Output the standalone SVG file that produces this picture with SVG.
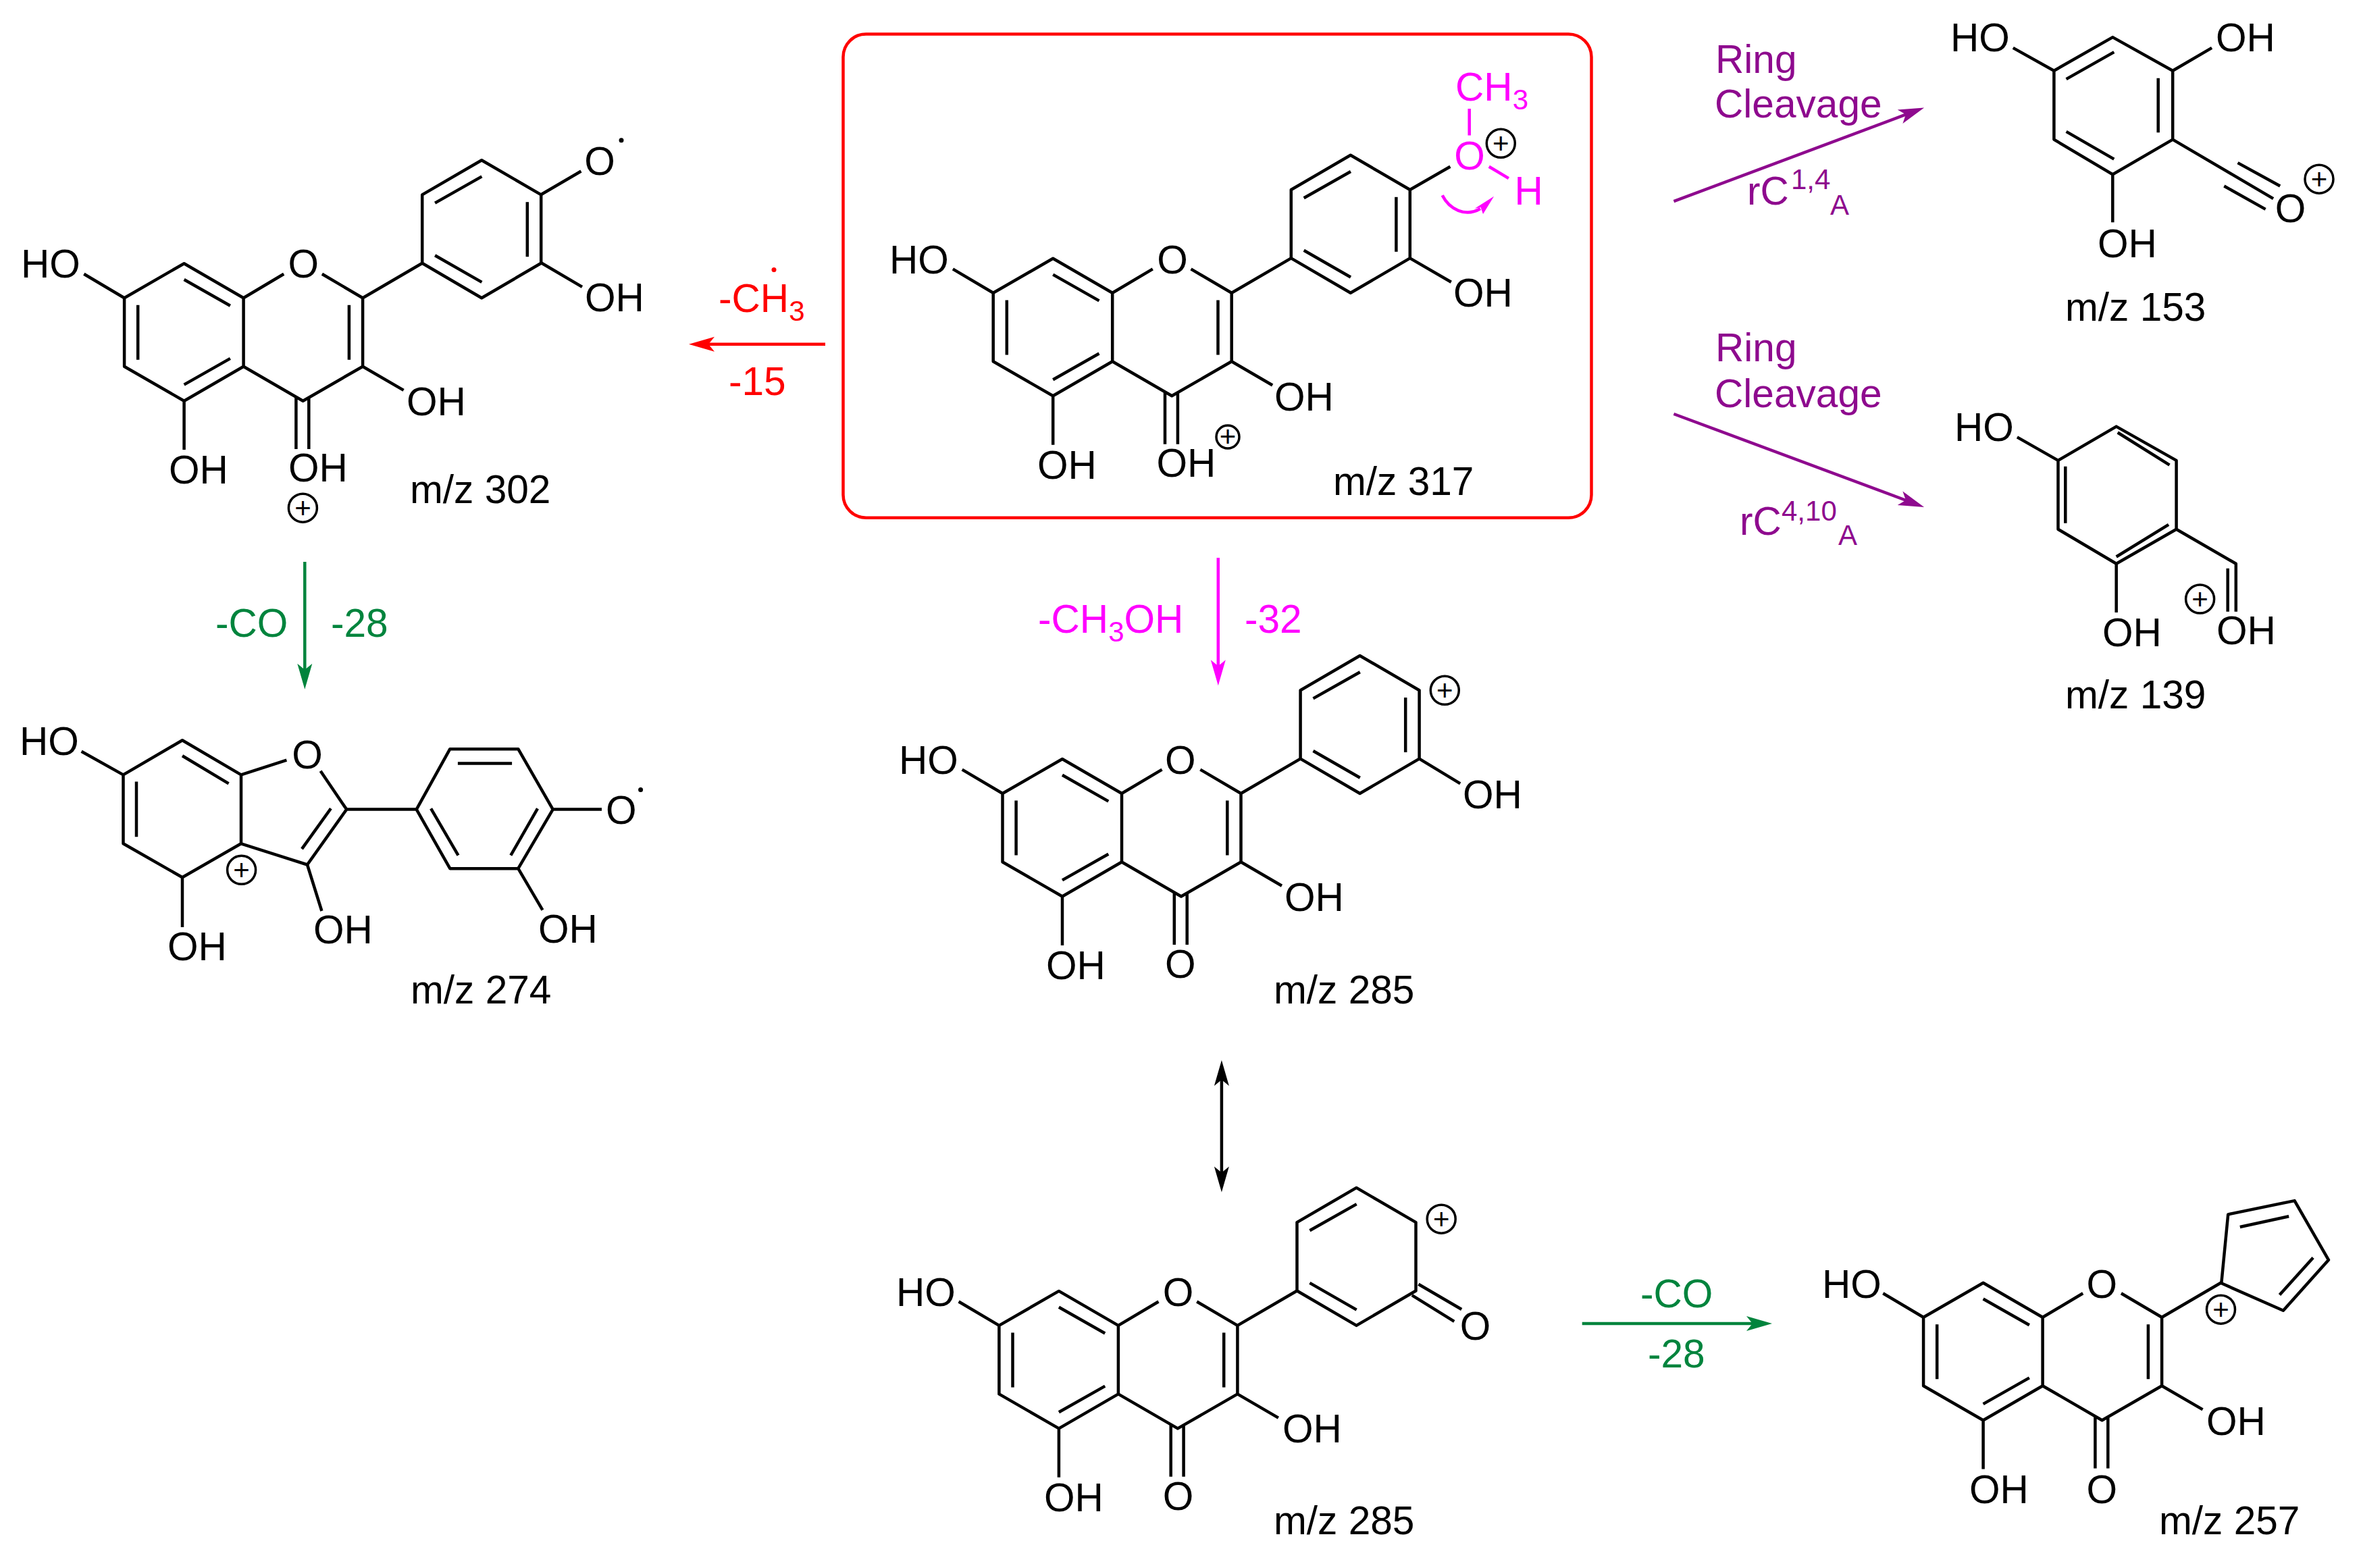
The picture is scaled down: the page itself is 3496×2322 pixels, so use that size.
<svg xmlns="http://www.w3.org/2000/svg" width="3496" height="2322" viewBox="0 0 3496 2322">
<style>
text{font-family:"Liberation Sans",Arial,sans-serif;font-size:58.6px;fill:#000}
.m{text-anchor:middle}
.b{fill:none;stroke:#000;stroke-width:4.5;stroke-linejoin:round;stroke-linecap:butt}
.pc{fill:none;stroke:#000;stroke-width:3.5}
.pt{font-size:42px;text-anchor:middle}
.dot{fill:#000}
.s{font-size:42px}
.red{fill:#f00}.grn{fill:#00843d}.mag{fill:#f0f}.pur{fill:#8e0a8e}
.mb{fill:none;stroke:#f0f;stroke-width:4.5}
.arrow{fill:none;stroke-width:4.5}
</style>
<defs>
<g id="chromone"><path class="b" d="M0,0L-88,-51L-176.5,0V101.5L-88,152.5L0,101.5ZM0,101.5L88,152.5L176.5,101.5V0M59.6,-35.4L0,0M116.3,-35.4L176.5,0M-156.4,10.6V91.6M-88,-27.2L-19.7,11.6M-88,128.4L-19.7,89.7M156.3,10.6V91.6M-176.5,0L-236.3,-35.4M176.5,101.5L237,136.7M-88,152.5V224.9M77.8,147V223.9M96.7,147V223.9M176.5,0L264.6,-51.4"/></g>
<g id="ringb"><path class="b" d="M264.6,-51.4L352.6,0L440.6,-51.4V-152.8L352.6,-204L264.6,-152.8ZM283.5,-140.6L352.8,-179.8M283.5,-63L352.8,-23.3"/></g>
<path id="ringb3" class="b" d="M420.2,-142V-61"/>
<marker id="hr" markerUnits="userSpaceOnUse" markerWidth="40" markerHeight="26" refX="18" refY="13" orient="auto"><path d="M38,13L0,2L9,13L0,24Z" fill="#f00"/></marker>
<marker id="hg" markerUnits="userSpaceOnUse" markerWidth="40" markerHeight="26" refX="18" refY="13" orient="auto"><path d="M38,13L0,2L9,13L0,24Z" fill="#00843d"/></marker>
<marker id="hm" markerUnits="userSpaceOnUse" markerWidth="40" markerHeight="26" refX="18" refY="13" orient="auto"><path d="M38,13L0,2L9,13L0,24Z" fill="#f0f"/></marker>
<marker id="hp" markerUnits="userSpaceOnUse" markerWidth="40" markerHeight="26" refX="18" refY="13" orient="auto"><path d="M38,13L0,2L9,13L0,24Z" fill="#8e0a8e"/></marker>
<marker id="hk" markerUnits="userSpaceOnUse" markerWidth="40" markerHeight="26" refX="18" refY="13" orient="auto-start-reverse"><path d="M38,13L0,2L9,13L0,24Z" fill="#000"/></marker>
</defs>
<rect width="3496" height="2322" fill="#fff"/>

<g id="connectors">
<path class="arrow" stroke="#f00" marker-end="url(#hr)" d="M1222,509.8H1040"/>
<path class="arrow" stroke="#00843d" marker-end="url(#hg)" d="M451.3,832V1000.8"/>
<path class="arrow" stroke="#f0f" marker-end="url(#hm)" d="M1803.8,825.9V995.2"/>
<path class="arrow" stroke="#000" marker-start="url(#hk)" marker-end="url(#hk)" d="M1808.9,1590V1745.4"/>
<path class="arrow" stroke="#00843d" marker-end="url(#hg)" d="M2342.7,1960H2604"/>
<path class="arrow" stroke="#8e0a8e" marker-end="url(#hp)" d="M2478.4,298.2L2830.4,166.4"/>
<path class="arrow" stroke="#8e0a8e" marker-end="url(#hp)" d="M2478.4,613L2830.4,744"/>
</g>

<g id="node-mz317">
<rect x="1248.5" y="50.4" width="1108" height="716.4" rx="34" fill="none" stroke="#f00" stroke-width="4.5"/>
<use href="#chromone" x="1647.2" y="433.8"/><use href="#ringb" x="1647.2" y="433.8"/><use href="#ringb3" x="1647.2" y="433.8"/>
<path class="b" d="M2087.8,281L2147.4,246.7M2087.8,382.4L2148.8,417.8"/>
<text x="1317" y="405">HO</text><text class="m" x="1736" y="405">O</text>
<text x="2152" y="454">OH</text><text x="1887" y="607.5">OH</text><text x="1536" y="709">OH</text><text x="1712.5" y="706">OH</text>
<circle class="pc" cx="1818" cy="647" r="17"/><text class="pt" x="1818" y="661">+</text>
<text x="1974" y="732.5">m/z 317</text>
<text class="mag" x="2155" y="149">CH<tspan class="s" dy="13">3</tspan></text>
<path class="mb" d="M2175.7,160.9V200.6M2204.8,246.7L2233.9,264.1"/>
<text class="m mag" x="2176" y="250.5">O</text><text class="mag" x="2242.5" y="302.5">H</text>
<circle class="pc" cx="2222.3" cy="212.3" r="21"/><text class="pt" x="2222.3" y="226.5">+</text>
<path class="mb" d="M2135.7,289.3C2146,310 2170,322 2192,309"/>
<path d="M2212.1,290.8L2183.7,308.7L2192.5,307L2196,317Z" fill="#f0f"/>
</g>

<g id="node-mz302">
<use href="#chromone" x="360.6" y="441.2"/><use href="#ringb" x="360.6" y="441.2"/><use href="#ringb3" x="360.6" y="441.2"/>
<path class="b" d="M801,288.2L860.4,253.5M801,389L862,424.9"/>
<text x="31" y="411">HO</text><text class="m" x="449.2" y="411">O</text>
<text x="602" y="615">OH</text><text x="250" y="715.5">OH</text><text x="427" y="713">OH</text>
<text class="m" x="888" y="258.5">O</text><circle class="dot" cx="920" cy="207.8" r="3.5"/>
<text x="866" y="461">OH</text>
<circle class="pc" cx="448.4" cy="752.2" r="21"/><text class="pt" x="448.4" y="766.5">+</text>
<text x="607" y="745">m/z 302</text>
</g>

<g id="label-ch3"><text class="red" x="1064" y="462">-CH<tspan class="s" dy="13">3</tspan></text><circle cx="1146" cy="399.6" r="3.5" fill="#f00"/><text class="red" x="1079" y="584.5">-15</text></g>

<g id="node-mz274">
<path class="b" d="M182.5,1147.4L270,1096.2L357,1147.4V1249.3L270,1299.2L182.5,1249.3ZM357,1147.4L424.4,1125.7M474.6,1141.8L513.2,1198.6L455,1280.5L357,1249.3M270,1119.2L338.6,1160.4M202,1157.4V1239.3M489.9,1197.3L447,1257.1M513.2,1198.6H616.7L666.3,1286.2H767.3L818.7,1198.6L767.3,1109.2H666.3L616.7,1198.6M677.9,1130.5H758.1M638.1,1197.3L678.5,1266.7M796,1197.3L756.3,1266.7M818.7,1198.6H891M455,1280.5L476.4,1349M270,1299.2V1372.9M767.3,1286.2L803.4,1347.7M182.5,1147.4L120.6,1112.7"/>
<text x="29" y="1117.5">HO</text><text class="m" x="455" y="1137.5">O</text>
<text class="m" x="919.8" y="1219.5">O</text><circle class="dot" cx="948.6" cy="1169.5" r="3.5"/>
<text x="464" y="1397">OH</text><text x="248" y="1422">OH</text><text x="797" y="1395.5">OH</text>
<circle class="pc" cx="357.6" cy="1288.3" r="21"/><text class="pt" x="357.6" y="1302.5">+</text>
<text x="608" y="1486">m/z 274</text>
</g>
<g id="label-co1"><text class="grn" x="319" y="943">-CO</text><text class="grn" x="490" y="943">-28</text></g>

<g id="node-mz285a">
<use href="#chromone" x="1661" y="1175"/><use href="#ringb" x="1661" y="1175"/><use href="#ringb3" x="1661" y="1175"/>
<path class="b" d="M2101.6,1123.6L2162.2,1160.3"/>
<text x="1331" y="1145.5">HO</text><text class="m" x="1747.7" y="1145.5">O</text>
<text x="2166" y="1196.5">OH</text><text x="1902" y="1348.5">OH</text><text x="1549" y="1450">OH</text><text class="m" x="1747.7" y="1447.5">O</text>
<circle class="pc" cx="2139.3" cy="1022.3" r="21"/><text class="pt" x="2139.3" y="1036.5">+</text>
<text x="1886" y="1486">m/z 285</text>
</g>
<g id="label-ch3oh"><text class="mag" x="1537" y="936.5">-CH<tspan class="s" dy="13">3</tspan><tspan dy="-13">OH</tspan></text><text class="mag" x="1843" y="936.5">-32</text></g>

<g id="node-mz285b">
<use href="#chromone" x="1655.9" y="1962.9"/><use href="#ringb" x="1655.9" y="1962.9"/>
<path class="b" d="M2090.8,1918.1L2153.3,1956.9M2100.4,1901.7L2164.2,1939"/>
<text x="1327" y="1933.5">HO</text><text class="m" x="1744.5" y="1933.5">O</text>
<text x="1899" y="2136">OH</text><text x="1546" y="2238">OH</text><text class="m" x="1744.5" y="2235.5">O</text><text class="m" x="2184.6" y="1983.5">O</text>
<circle class="pc" cx="2134.2" cy="1805.2" r="21"/><text class="pt" x="2134.2" y="1819.5">+</text>
<text x="1886" y="2271.5">m/z 285</text>
</g>

<g id="node-mz257">
<use href="#chromone" x="3024.6" y="1950.7"/>
<path class="b" d="M3289.3,1900.3L3380.9,1940.8L3448,1865.8L3397.6,1778.1L3299.2,1798.4ZM3316.8,1817L3389.2,1801.2M3375.5,1917.4L3425.1,1862.6"/>
<text x="2698" y="1921.5">HO</text><text class="m" x="3112.4" y="1921.5">O</text>
<text x="3267" y="2124.5">OH</text><text x="2916" y="2225.5">OH</text><text class="m" x="3112.4" y="2225.5">O</text>
<circle class="pc" cx="3288.5" cy="1939.2" r="21"/><text class="pt" x="3288.5" y="1953.5">+</text>
<text x="3197" y="2271.5">m/z 257</text>
</g>
<g id="label-co2"><text class="grn" x="2429" y="1936">-CO</text><text class="grn" x="2440" y="2024.5">-28</text></g>

<g id="node-mz153">
<path class="b" d="M3041.4,104.7L3128.3,55.1L3217.2,104.7V206.6L3128.3,258.3L3041.4,206.6ZM3059.6,117.1L3130.3,77.1M3195.7,115.7V196.3M3059.6,194.9L3130.3,235.6M3041.4,104.7L2980.8,70.9M3217.2,104.7L3275.1,70.9M3128.3,258.3V329.2M3217.2,206.6L3366.1,294.1M3313.5,241.1L3376.2,275.5M3293.3,275.5L3354.6,309.9"/>
<text x="2888" y="76">HO</text><text x="3281" y="76">OH</text><text x="3106" y="381">OH</text>
<text class="m" x="3391.6" y="328.5">O</text>
<circle class="pc" cx="3434" cy="265.2" r="21"/><text class="pt" x="3434" y="279.5">+</text>
<text x="3058" y="475.2">m/z 153</text>
</g>
<g id="label-rc14"><text class="pur" x="2540" y="108.1">Ring</text><text class="pur" x="2539" y="174.3">Cleavage</text>
<text class="pur" x="2587" y="303">rC</text><text class="pur s" x="2652" y="280.3">1,4</text><text class="pur s" x="2710" y="318.2">A</text></g>

<g id="node-mz139">
<path class="b" d="M3047.5,681.9L3133.7,631.6L3222.6,681.9V783.8L3133.7,834.8L3047.5,783.8ZM3135.7,640.5L3212.5,688.7M3058.3,690.8V774.8M3133.7,824.5L3211.1,776.9M3047.5,681.9L2986.9,647.4M3133.7,834.8V907M3222.6,783.8L3310.8,834.8V905.7M3298.7,841.7V905.7"/>
<text x="2894" y="653">HO</text><text x="3113" y="957.4">OH</text><text x="3282" y="953.9">OH</text>
<circle class="pc" cx="3257.6" cy="887.1" r="21"/><text class="pt" x="3257.6" y="901.5">+</text>
<text x="3058" y="1049">m/z 139</text>
</g>
<g id="label-rc410"><text class="pur" x="2540" y="535.2">Ring</text><text class="pur" x="2539" y="602.7">Cleavage</text>
<text class="pur" x="2576" y="792">rC</text><text class="pur s" x="2638" y="771.4">4,10</text><text class="pur s" x="2722" y="807.2">A</text></g>
</svg>
